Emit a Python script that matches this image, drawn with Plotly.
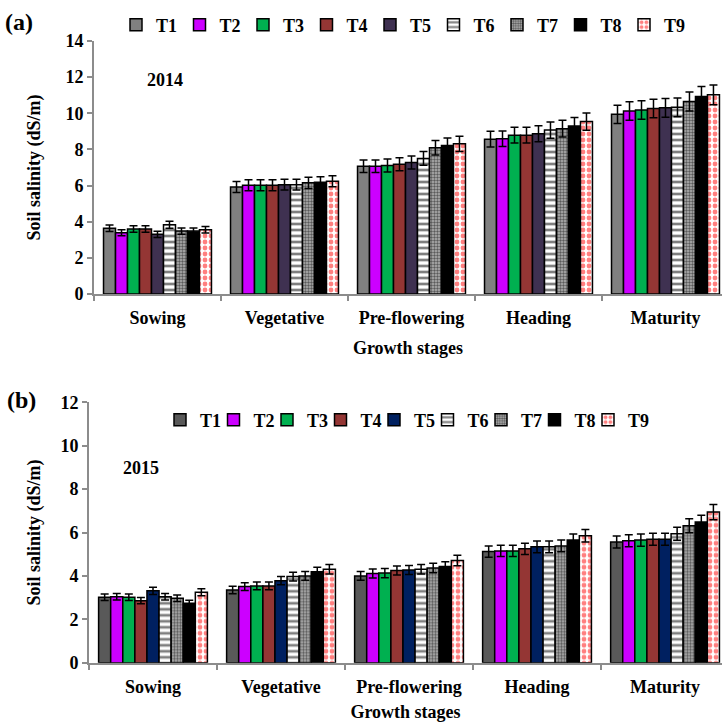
import plotly.graph_objects as go

stages = ["Sowing", "Vegetative", "Pre-flowering", "Heading", "Maturity"]
treatments = ["T1", "T2", "T3", "T4", "T5", "T6", "T7", "T8", "T9"]

# 2014 soil salinity (dS/m), one list per treatment across stages
v2014 = {
    "T1": [3.64, 5.92, 7.07, 8.57, 9.94],
    "T2": [3.39, 6.02, 7.07, 8.59, 10.13],
    "T3": [3.60, 6.02, 7.11, 8.79, 10.18],
    "T4": [3.60, 6.02, 7.18, 8.79, 10.26],
    "T5": [3.30, 6.05, 7.28, 8.87, 10.30],
    "T6": [3.83, 6.05, 7.50, 9.07, 10.33],
    "T7": [3.48, 6.15, 8.09, 9.15, 10.65],
    "T8": [3.48, 6.18, 8.22, 9.30, 10.93],
    "T9": [3.55, 6.24, 8.31, 9.54, 11.02],
}
e2014 = {
    "T1": [0.18, 0.30, 0.35, 0.43, 0.50],
    "T2": [0.17, 0.30, 0.35, 0.43, 0.51],
    "T3": [0.18, 0.30, 0.36, 0.44, 0.51],
    "T4": [0.18, 0.30, 0.36, 0.44, 0.51],
    "T5": [0.17, 0.30, 0.36, 0.44, 0.52],
    "T6": [0.19, 0.30, 0.38, 0.45, 0.52],
    "T7": [0.17, 0.31, 0.40, 0.46, 0.53],
    "T8": [0.17, 0.31, 0.41, 0.47, 0.55],
    "T9": [0.18, 0.31, 0.42, 0.48, 0.55],
}

# 2015 soil salinity (dS/m)
v2015 = {
    "T1": [3.02, 3.35, 4.00, 5.12, 5.56],
    "T2": [3.04, 3.51, 4.11, 5.15, 5.62],
    "T3": [3.02, 3.54, 4.13, 5.15, 5.65],
    "T4": [2.86, 3.54, 4.25, 5.25, 5.69],
    "T5": [3.31, 3.78, 4.27, 5.34, 5.69],
    "T6": [3.04, 3.97, 4.31, 5.34, 5.94],
    "T7": [2.97, 4.00, 4.36, 5.38, 6.31],
    "T8": [2.74, 4.19, 4.43, 5.65, 6.48],
    "T9": [3.25, 4.31, 4.71, 5.85, 6.94],
}
e2015 = {
    "T1": [0.15, 0.17, 0.20, 0.26, 0.28],
    "T2": [0.15, 0.18, 0.21, 0.26, 0.28],
    "T3": [0.15, 0.18, 0.21, 0.26, 0.28],
    "T4": [0.14, 0.18, 0.21, 0.26, 0.28],
    "T5": [0.17, 0.19, 0.21, 0.27, 0.28],
    "T6": [0.15, 0.20, 0.22, 0.27, 0.30],
    "T7": [0.15, 0.20, 0.22, 0.27, 0.32],
    "T8": [0.14, 0.21, 0.22, 0.28, 0.32],
    "T9": [0.16, 0.22, 0.24, 0.29, 0.35],
}

colors_a = {"T1": "#808080", "T2": "#CC00FF", "T3": "#00B050", "T4": "#943634",
            "T5": "#3F3151", "T6": "white", "T7": "#b4b4b4", "T8": "#000000", "T9": "white"}
colors_b = {"T1": "#595959", "T2": "#CC00FF", "T3": "#00B050", "T4": "#943634",
            "T5": "#002060", "T6": "white", "T7": "#b4b4b4", "T8": "#000000", "T9": "white"}
patterns = {
    "T6": dict(shape="-", fgcolor="black", bgcolor="white", size=6, solidity=0.45),
    "T7": dict(shape=".", fgcolor="black", bgcolor="#b4b4b4", size=3, solidity=0.5),
    "T9": dict(shape=".", fgcolor="red", bgcolor="white", size=6, solidity=0.5),
}

FONT = "Liberation Serif"
fig = go.Figure()

def add(vals, errs, cols, xa, ya, legend):
    for t in treatments:
        marker = dict(color=cols[t], line=dict(color="black", width=1.5))
        if t in patterns:
            marker["pattern"] = patterns[t]
        fig.add_trace(go.Bar(
            x=stages, y=vals[t], name=t, xaxis=xa, yaxis=ya, legend=legend,
            marker=marker,
            error_y=dict(type="data", array=errs[t], color="black", thickness=1.5, width=4),
        ))
    # invisible spacer entry so the last legend label is not clipped
    fig.add_trace(go.Scatter(x=[None], y=[None], name=" ", mode="markers",
                             marker=dict(color="rgba(0,0,0,0)", size=1), xaxis=xa, yaxis=ya,
                             legend=legend, hoverinfo="skip"))

add(v2014, e2014, colors_a, "x", "y", "legend")
add(v2015, e2015, colors_b, "x2", "y2", "legend2")

H = 725.0
W = 722.0
axis_common = dict(showline=True, linecolor="#8c8c8c", linewidth=2, ticks="outside",
                   tickcolor="#8c8c8c", ticklen=5, tickwidth=1.5, showgrid=False,
                   zeroline=False, automargin=False,
                   tickfont=dict(family=FONT, size=18, color="black", weight="bold"))

fig.update_layout(
    width=722, height=725,
    margin=dict(l=0, r=0, t=0, b=0, autoexpand=False),
    paper_bgcolor="white", plot_bgcolor="white",
    font=dict(family=FONT, size=18, color="black", weight="bold"),
    barmode="group", bargap=0.15, bargroupgap=0,
    xaxis=dict(domain=[94 / W, 1], anchor="y", range=[-0.5, 4.445], tickson="boundaries",
               ticklabelstandoff=6,
               title=dict(text="Growth stages", standoff=15,
                          font=dict(family=FONT, size=18, weight="bold")),
               **axis_common),
    yaxis=dict(domain=[1 - 294 / H, 1 - 41 / H], anchor="x", range=[0, 14], dtick=2,
               title=dict(text="Soil salinity (dS/m)", standoff=20,
                          font=dict(family=FONT, size=18, weight="bold")),
               **axis_common),
    xaxis2=dict(domain=[89 / W, 1], anchor="y2", range=[-0.5, 4.445], tickson="boundaries",
                ticklabelstandoff=7,
                title=dict(text="Growth stages", standoff=9,
                           font=dict(family=FONT, size=18, weight="bold")),
                **axis_common),
    yaxis2=dict(domain=[1 - 662.7 / H, 1 - 402.3 / H], anchor="x2", range=[0, 12], dtick=2,
                title=dict(text="Soil salinity (dS/m)", standoff=15,
                           font=dict(family=FONT, size=18, weight="bold")),
                **axis_common),
    legend=dict(orientation="h", x=116 / W, y=1 - 25 / H, xanchor="left", yanchor="middle",
                entrywidth=18.5, entrywidthmode="pixels", bgcolor="rgba(0,0,0,0)",
                font=dict(family=FONT, size=18, weight="bold"), itemclick=False),
    legend2=dict(orientation="h", x=160 / W, y=1 - 420 / H, xanchor="left", yanchor="middle",
                 entrywidth=8.5, entrywidthmode="pixels", bgcolor="rgba(0,0,0,0)",
                 font=dict(family=FONT, size=18, weight="bold"), itemclick=False),
    showlegend=True,
    annotations=[
        dict(text="(a)", x=3 / W, y=1 - 22 / H, xref="paper", yref="paper", showarrow=False,
             xanchor="left", yanchor="middle", font=dict(family=FONT, size=24, weight="bold")),
        dict(text="(b)", x=5 / W, y=1 - 400 / H, xref="paper", yref="paper", showarrow=False,
             xanchor="left", yanchor="middle", font=dict(family=FONT, size=24, weight="bold")),
        dict(text="2014", x=165 / W, y=1 - 80 / H, xref="paper", yref="paper", showarrow=False,
             xanchor="center", yanchor="middle", font=dict(family=FONT, size=18, weight="bold")),
        dict(text="2015", x=141 / W, y=1 - 468 / H, xref="paper", yref="paper", showarrow=False,
             xanchor="center", yanchor="middle", font=dict(family=FONT, size=18, weight="bold")),
    ],
)

fig.write_html("out.html", config={"displayModeBar": False},
               post_script="document.body.style.margin='0';")
